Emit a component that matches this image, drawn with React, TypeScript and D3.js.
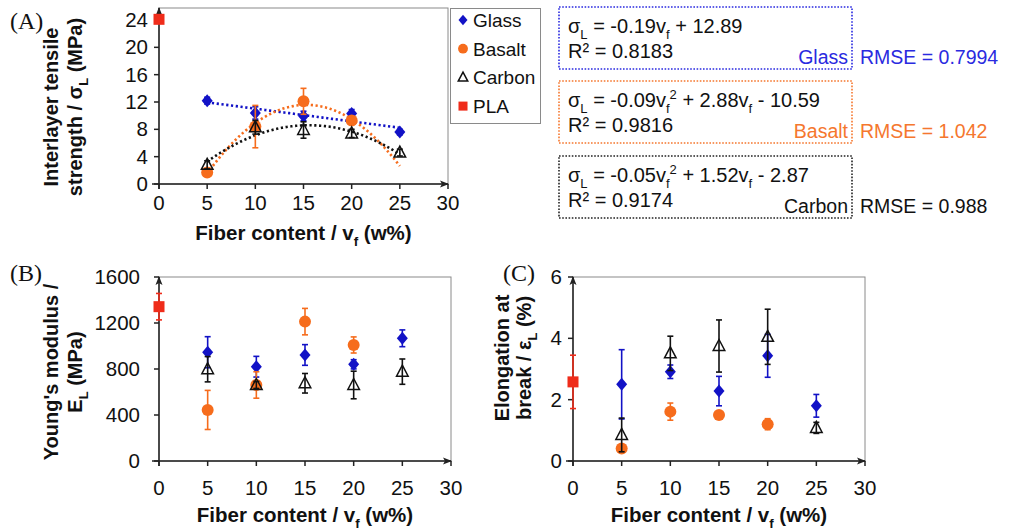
import React from "react";
import * as d3 from "d3";

// fiber contents (w%)
const fiberContent = [5, 10, 15, 20, 25];
const basaltContent = [5, 10, 15, 20];
const plaContent = [0];
const xTicks = [0, 5, 10, 15, 20, 25, 30];

// (A) interlayer tensile strength (MPa)
const glassStrength = [12.2, 10.4, 9.95, 10.3, 7.6];
const glassStrengthErr = [0.5, 0.9, 0.7, 0.6, 0.4];
const basaltStrength = [1.7, 8.4, 12.1, 9.3];
const basaltStrengthErr = [0.4, 3.1, 1.9, 0.6];
const carbonStrength = [2.8, 8.3, 7.9, 7.4, 4.6];
const carbonStrengthErr = [0.6, 1.0, 1.2, 0.6, 0.5];
const plaStrength = [24.1];
const plaStrengthErr = [0.3];
const strengthTicks = [0, 4, 8, 12, 16, 20, 24];

// (B) Young's modulus (MPa)
const glassModulus = [946, 820, 922, 841, 1067];
const glassModulusErr = [135, 90, 90, 40, 73];
const basaltModulus = [444, 661, 1212, 1009];
const basaltModulusErr = [170, 115, 115, 70];
const carbonModulus = [798, 661, 676, 661, 777];
const carbonModulusErr = [110, 30, 85, 120, 110];
const plaModulus = [1342];
const plaModulusErr = [115];
const modulusTicks = [0, 400, 800, 1200, 1600];

// (C) elongation at break (%)
const glassElong = [2.5, 2.91, 2.28, 3.43, 1.8];
const glassElongErr = [1.13, 0.22, 0.48, 0.7, 0.37];
const basaltElong = [0.41, 1.61, 1.5, 1.2];
const basaltElongErr = [0.05, 0.28, 0.06, 0.18];
const carbonElong = [0.85, 3.51, 3.75, 4.05, 1.08];
const carbonElongErr = [0.55, 0.56, 0.85, 0.9, 0.18];
const plaElong = [2.58];
const plaElongErr = [0.87];
const elongTicks = [0, 2, 4, 6];

const legendNames = ["Glass", "Basalt", "Carbon", "PLA"];

const FONT = "'Liberation Sans', Arial, Helvetica, sans-serif";
const SERIF = "'Liberation Serif', 'Times New Roman', serif";
const BLUE = "#1212c6";
const ORANGE = "#f66c1c";
const RED = "#ef2c1a";
const AXIS = "#222";

// least squares polynomial fit (what excel draws as trendline)
function polyfit(xs, ys, deg) {
  const n = deg + 1;
  const A = [];
  for (let i = 0; i < n; i++) {
    const row = [];
    for (let j = 0; j < n; j++) row.push(d3.sum(xs, (x) => Math.pow(x, i + j)));
    row.push(d3.sum(xs, (x, k) => Math.pow(x, i) * ys[k]));
    A.push(row);
  }
  for (let i = 0; i < n; i++) {
    let p = i;
    for (let r = i + 1; r < n; r++) if (Math.abs(A[r][i]) > Math.abs(A[p][i])) p = r;
    [A[i], A[p]] = [A[p], A[i]];
    for (let r = 0; r < n; r++) {
      if (r === i) continue;
      const f = A[r][i] / A[i][i];
      for (let c = i; c <= n; c++) A[r][c] -= f * A[i][c];
    }
  }
  return A.map((row, i) => row[n] / row[i]);
}

function Rich({ x, y, segs, size, fill = "#111", weight = "normal", anchor = "start", transform }) {
  let shift = 0;
  return (
    <text x={x} y={y} fontSize={size} fill={fill} fontWeight={weight} textAnchor={anchor}
      fontFamily={FONT} transform={transform}>
      {segs.map(([t, mode], i) => {
        const target = mode === "sub" ? size * 0.3 : mode === "sup" ? -size * 0.38 : 0;
        const dy = target - shift;
        shift = target;
        return (
          <tspan key={i} dy={dy} fontSize={mode ? size * 0.65 : size}>{t}</tspan>
        );
      })}
    </text>
  );
}

function Marker({ shape, x, y, s = 1 }) {
  if (shape === "diamond")
    return <path d={`M${x},${y - 6.5 * s}L${x + 5.5 * s},${y}L${x},${y + 6.5 * s}L${x - 5.5 * s},${y}Z`} fill={BLUE} />;
  if (shape === "circle") return <circle cx={x} cy={y} r={6 * s} fill={ORANGE} />;
  if (shape === "triangle")
    return (
      <path d={`M${x},${y - 6.5 * s}L${x + 5.8 * s},${y + 4.5 * s}L${x - 5.8 * s},${y + 4.5 * s}Z`}
        fill="none" stroke="#111" strokeWidth={1.5} />
    );
  return <rect x={x - 5.5 * s} y={y - 5.5 * s} width={11 * s} height={11 * s} fill={RED} />;
}

function Panel({ label, labelX, x0, x1, yZero, yTop, yMaxTick, frameTop, yTicks, yLabelRight,
  xLabelBase, xTitleBase, yTitle, yTitleX, yTitleY, series, trends }) {
  const x = d3.scaleLinear().domain([0, 30]).range([x0, x1]);
  const y = d3.scaleLinear().domain([0, yMaxTick]).range([yZero, yTop]);
  const line = d3.line().x((d) => x(d[0])).y((d) => y(d[1]));
  return (
    <g>
      <text x={labelX} y={frameTop < 100 ? 29 : 281} fontFamily={SERIF} fontSize={24} fill="#111">{label}</text>
      <rect x={x0} y={frameTop} width={x1 - x0} height={yZero - frameTop} fill="none" stroke="#8a8a8a" strokeWidth={1} />
      {/* axes */}
      <line x1={x0 - 7} x2={x1} y1={yZero} y2={yZero} stroke={AXIS} strokeWidth={1.5} />
      <path d={`M${x1 + 1},${yZero}L${x1 - 8},${yZero - 3.5}L${x1 - 6},${yZero}L${x1 - 8},${yZero + 3.5}Z`} fill={AXIS} />
      <line x1={x0} x2={x0} y1={yZero + 5} y2={frameTop} stroke={AXIS} strokeWidth={1.5} />
      <path d={`M${x0},${frameTop - 1}L${x0 - 3.5},${frameTop + 8}L${x0},${frameTop + 6}L${x0 + 3.5},${frameTop + 8}Z`} fill={AXIS} />
      {xTicks.map((t) => (
        <g key={t}>
          <line x1={x(t)} x2={x(t)} y1={yZero} y2={yZero + 5} stroke={AXIS} strokeWidth={1.5} />
          <text x={x(t)} y={xLabelBase} textAnchor="middle" fontFamily={FONT} fontSize={20.5} fill="#111">{t}</text>
        </g>
      ))}
      {yTicks.map((t) => (
        <g key={t}>
          <line x1={x0 - 5} x2={x0} y1={y(t)} y2={y(t)} stroke={AXIS} strokeWidth={1.5} />
          <text x={yLabelRight} y={y(t) + 7} textAnchor="end" fontFamily={FONT} fontSize={20.5} fill="#111">{t}</text>
        </g>
      ))}
      <Rich x={(x0 + x1) / 2} y={xTitleBase} anchor="middle" size={20.5} weight="bold"
        segs={[["Fiber content / v"], ["f", "sub"], [" (w%)"]]} />
      {yTitle.map((segs, i) => (
        <Rich key={i} x={0} y={0} anchor="middle" size={20} weight="bold" segs={segs}
          transform={`translate(${yTitleX[i]},${yTitleY}) rotate(-90)`} />
      ))}
      {/* trendlines */}
      {trends.map((tr, i) => {
        const c = polyfit(tr.xs, tr.ys, tr.deg);
        const pts = d3.range(5, 25.01, 0.25).map((v) => [v, c.reduce((s, k, p) => s + k * Math.pow(v, p), 0)]);
        return <path key={i} d={line(pts)} fill="none" stroke={tr.color} strokeWidth={2.6} strokeDasharray="2.2,2.6" />;
      })}
      {/* series */}
      {series.map((s) => (
        <g key={s.name}>
          {s.xs.map((v, i) => {
            const top = y(s.ys[i] + s.err[i]);
            const bot = y(s.ys[i] - s.err[i]);
            return (
              <g key={i} stroke={s.color} strokeWidth={1.6}>
                <line x1={x(v)} x2={x(v)} y1={top} y2={bot} />
                <line x1={x(v) - 3} x2={x(v) + 3} y1={top} y2={top} />
                <line x1={x(v) - 3} x2={x(v) + 3} y1={bot} y2={bot} />
              </g>
            );
          })}
          {s.xs.map((v, i) => <Marker key={i} shape={s.shape} x={x(v)} y={y(s.ys[i])} />)}
        </g>
      ))}
    </g>
  );
}

function makeSeries(glass, glassErr, basalt, basaltErr, carbon, carbonErr, pla, plaErr) {
  return [
    { name: "Glass", xs: fiberContent, ys: glass, err: glassErr, color: BLUE, shape: "diamond" },
    { name: "Basalt", xs: basaltContent, ys: basalt, err: basaltErr, color: ORANGE, shape: "circle" },
    { name: "Carbon", xs: fiberContent, ys: carbon, err: carbonErr, color: "#111", shape: "triangle" },
    { name: "PLA", xs: plaContent, ys: pla, err: plaErr, color: RED, shape: "square" },
  ];
}

function FitBox({ top, color, eqSegs, r2, name, rmse }) {
  return (
    <g>
      <rect x={559} y={top} width={293} height={62} fill="none" stroke={color} strokeWidth={1.6} strokeDasharray="1.6,1.6" />
      <Rich x={568} y={top + 26} size={20} segs={eqSegs} />
      <Rich x={568} y={top + 51} size={20} segs={[["R² = " + r2]]} />
      <text x={848} y={top + 57} textAnchor="end" fontFamily={FONT} fontSize={19.5} fill={color === "#222" ? "#111" : color}>{name}</text>
      <text x={860} y={top + 57} fontFamily={FONT} fontSize={19.5} fill={color === "#222" ? "#111" : color}>{rmse}</text>
    </g>
  );
}

export default function App() {
  const seriesA = makeSeries(glassStrength, glassStrengthErr, basaltStrength, basaltStrengthErr,
    carbonStrength, carbonStrengthErr, plaStrength, plaStrengthErr);
  const seriesB = makeSeries(glassModulus, glassModulusErr, basaltModulus, basaltModulusErr,
    carbonModulus, carbonModulusErr, plaModulus, plaModulusErr);
  const seriesC = makeSeries(glassElong, glassElongErr, basaltElong, basaltElongErr,
    carbonElong, carbonElongErr, plaElong, plaElongErr);
  const trendsA = [
    { xs: fiberContent, ys: glassStrength, deg: 1, color: BLUE },
    { xs: basaltContent, ys: basaltStrength, deg: 2, color: ORANGE },
    { xs: fiberContent, ys: carbonStrength, deg: 2, color: "#111" },
  ];
  const legendShapes = ["diamond", "circle", "triangle", "square"];
  return (
    <svg width={1009} height={531} style={{ position: "absolute", left: 0, top: 0, background: "#fff" }}>
      <Panel label="(A)" labelX={10} x0={159} x1={448} yZero={184} yTop={20} yMaxTick={24} frameTop={8}
        yTicks={strengthTicks} yLabelRight={148} xLabelBase={210} xTitleBase={240}
        yTitle={[[["Interlayer tensile"]], [["strength / σ"], ["L", "sub"], [" (MPa)"]]]}
        yTitleX={[58, 82]} yTitleY={107} series={seriesA} trends={trendsA} />
      <Panel label="(B)" labelX={10} x0={159} x1={451} yZero={461} yTop={277} yMaxTick={1600} frameTop={277}
        yTicks={modulusTicks} yLabelRight={140} xLabelBase={495} xTitleBase={522}
        yTitle={[[["Young's modulus /"]], [["E"], ["L", "sub"], [" (MPa)"]]]}
        yTitleX={[58, 82]} yTitleY={372} series={seriesB} trends={[]} />
      <Panel label="(C)" labelX={503} x0={573} x1={865} yZero={461} yTop={277} yMaxTick={6} frameTop={277}
        yTicks={elongTicks} yLabelRight={562} xLabelBase={495} xTitleBase={522}
        yTitle={[[["Elongation at"]], [["break / ε"], ["L", "sub"], [" (%)"]]]}
        yTitleX={[509, 531]} yTitleY={358} series={seriesC} trends={[]} />
      {/* legend */}
      <rect x={450.5} y={8.5} width={90} height={115} fill="#fff" stroke="#8a8a8a" strokeWidth={1} />
      {legendNames.map((n, i) => (
        <g key={n}>
          <Marker shape={legendShapes[i]} x={463} y={20 + i * 28.7} s={0.82} />
          <text x={473} y={27 + i * 28.7} fontFamily={FONT} fontSize={19} fill="#111">{n}</text>
        </g>
      ))}
      <FitBox top={7} color="#2a2ae0" name="Glass" rmse="RMSE = 0.7994"
        eqSegs={[["σ"], ["L", "sub"], [" = -0.19v"], ["f", "sub"], [" + 12.89"]]} r2="0.8183" />
      <FitBox top={81} color="#f5772e" name="Basalt" rmse="RMSE = 1.042"
        eqSegs={[["σ"], ["L", "sub"], [" = -0.09v"], ["f", "sub"], ["2", "sup"], [" + 2.88v"], ["f", "sub"], [" - 10.59"]]} r2="0.9816" />
      <FitBox top={156} color="#222" name="Carbon" rmse="RMSE = 0.988"
        eqSegs={[["σ"], ["L", "sub"], [" = -0.05v"], ["f", "sub"], ["2", "sup"], [" + 1.52v"], ["f", "sub"], [" - 2.87"]]} r2="0.9174" />
    </svg>
  );
}
